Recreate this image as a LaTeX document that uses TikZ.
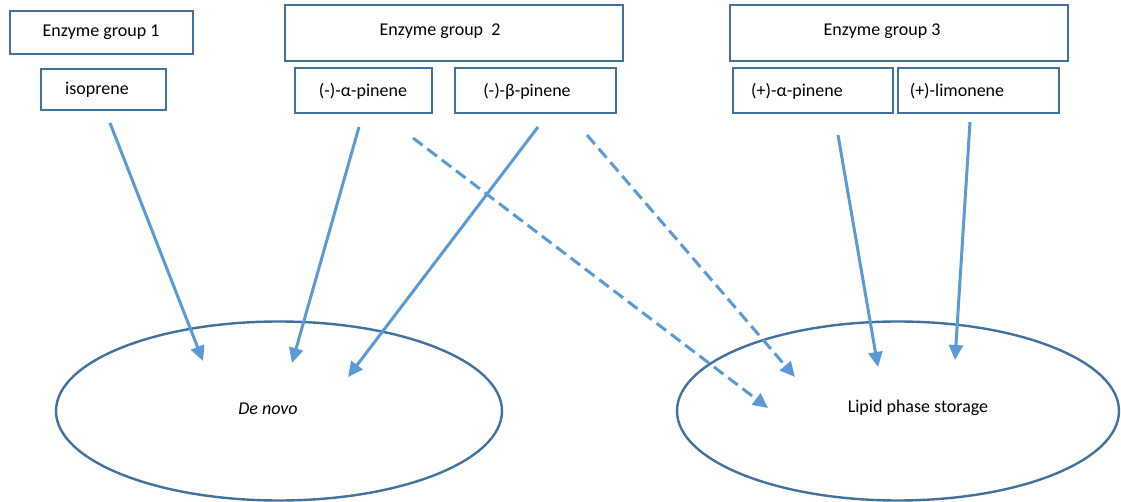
\documentclass[tikz,border=0pt]{standalone}
\usepackage{fontspec}
\setmainfont{Carlito}
\usetikzlibrary{arrows.meta}
\definecolor{boxblue}{HTML}{41719C}
\definecolor{arrblue}{HTML}{5B9BD5}
\tikzset{
  box/.style={draw=boxblue, line width=1.1pt, rectangle, inner sep=0pt},
  txt/.style={inner sep=0pt, font=\fontsize{9}{11}\selectfont},
  blob/.style={draw=boxblue, line width=1.2pt, ellipse},
  conn/.style={draw=arrblue, line width=1.5pt, -{Triangle[length=7.5pt,width=7pt]}},
  dconn/.style={conn, dash pattern=on 6pt off 3pt}
}
\begin{document}
\begin{tikzpicture}[x=0.5pt,y=-0.5pt]
\useasboundingbox (0,0) rectangle (1121,502);
% boxes
\node[box, minimum width=91.5pt, minimum height=21.5pt] (g1) at (101.5,32.5) {};
\node[txt] (g1t) at (101,32) {Enzyme group 1};
\node[box, minimum width=62.5pt, minimum height=20.5pt] (iso) at (103.5,89.5) {};
\node[txt] (isot) at (97,90) {isoprene};
\node[box, minimum width=169pt, minimum height=28pt] (g2) at (454,33) {};
\node[txt] (g2t) at (440,31) {Enzyme group\ \ 2};
\node[box, minimum width=68.5pt, minimum height=22.5pt] (ap) at (363.5,90.5) {};
\node[txt] (apt) at (363,91) {(-)-α-pinene};
\node[box, minimum width=80.5pt, minimum height=22.5pt] (bp) at (535.5,90.5) {};
\node[txt] (bpt) at (527,91) {(-)-β-pinene};
\node[box, minimum width=169pt, minimum height=28pt] (g3) at (899,33) {};
\node[txt] (g3t) at (882,31) {Enzyme group 3};
\node[box, minimum width=80pt, minimum height=22.5pt] (pap) at (813,90.5) {};
\node[txt] (papt) at (797,91) {(+)-α-pinene};
\node[box, minimum width=80.5pt, minimum height=22.5pt] (lim) at (978.5,90.5) {};
\node[txt] (limt) at (957,91) {(+)-limonene};
% ellipses
\draw[boxblue, line width=1.2pt] (279,411) ellipse [x radius=223, y radius=89.5];
\draw[boxblue, line width=1.2pt] (898,411) ellipse [x radius=221, y radius=89.5];
\node[txt] (dn) at (268,409) {\itshape De novo};
\node[txt] (lps) at (918,408) {Lipid phase storage};
% connector ends
\coordinate (s1) at (110,123);
\coordinate (e1) at (203,361);
\coordinate (s2) at (359,127);
\coordinate (e2) at (292,363);
\coordinate (s3) at (538,127);
\coordinate (e3) at (348,377);
\coordinate (s4) at (413,138);
\coordinate (e4) at (768,408);
\coordinate (s5) at (587,135);
\coordinate (e5) at (795,377);
\coordinate (s6) at (838,135);
\coordinate (e6) at (878,367);
\coordinate (s7) at (970,122);
\coordinate (e7) at (955,360);
\draw[conn] (s1) -- (e1);
\draw[conn] (s2) -- (e2);
\draw[conn] (s3) -- (e3);
\draw[dconn] (s4) -- (e4);
\draw[dconn] (s5) -- (e5);
\draw[conn] (s6) -- (e6);
\draw[conn] (s7) -- (e7);
\end{tikzpicture}
\end{document}
